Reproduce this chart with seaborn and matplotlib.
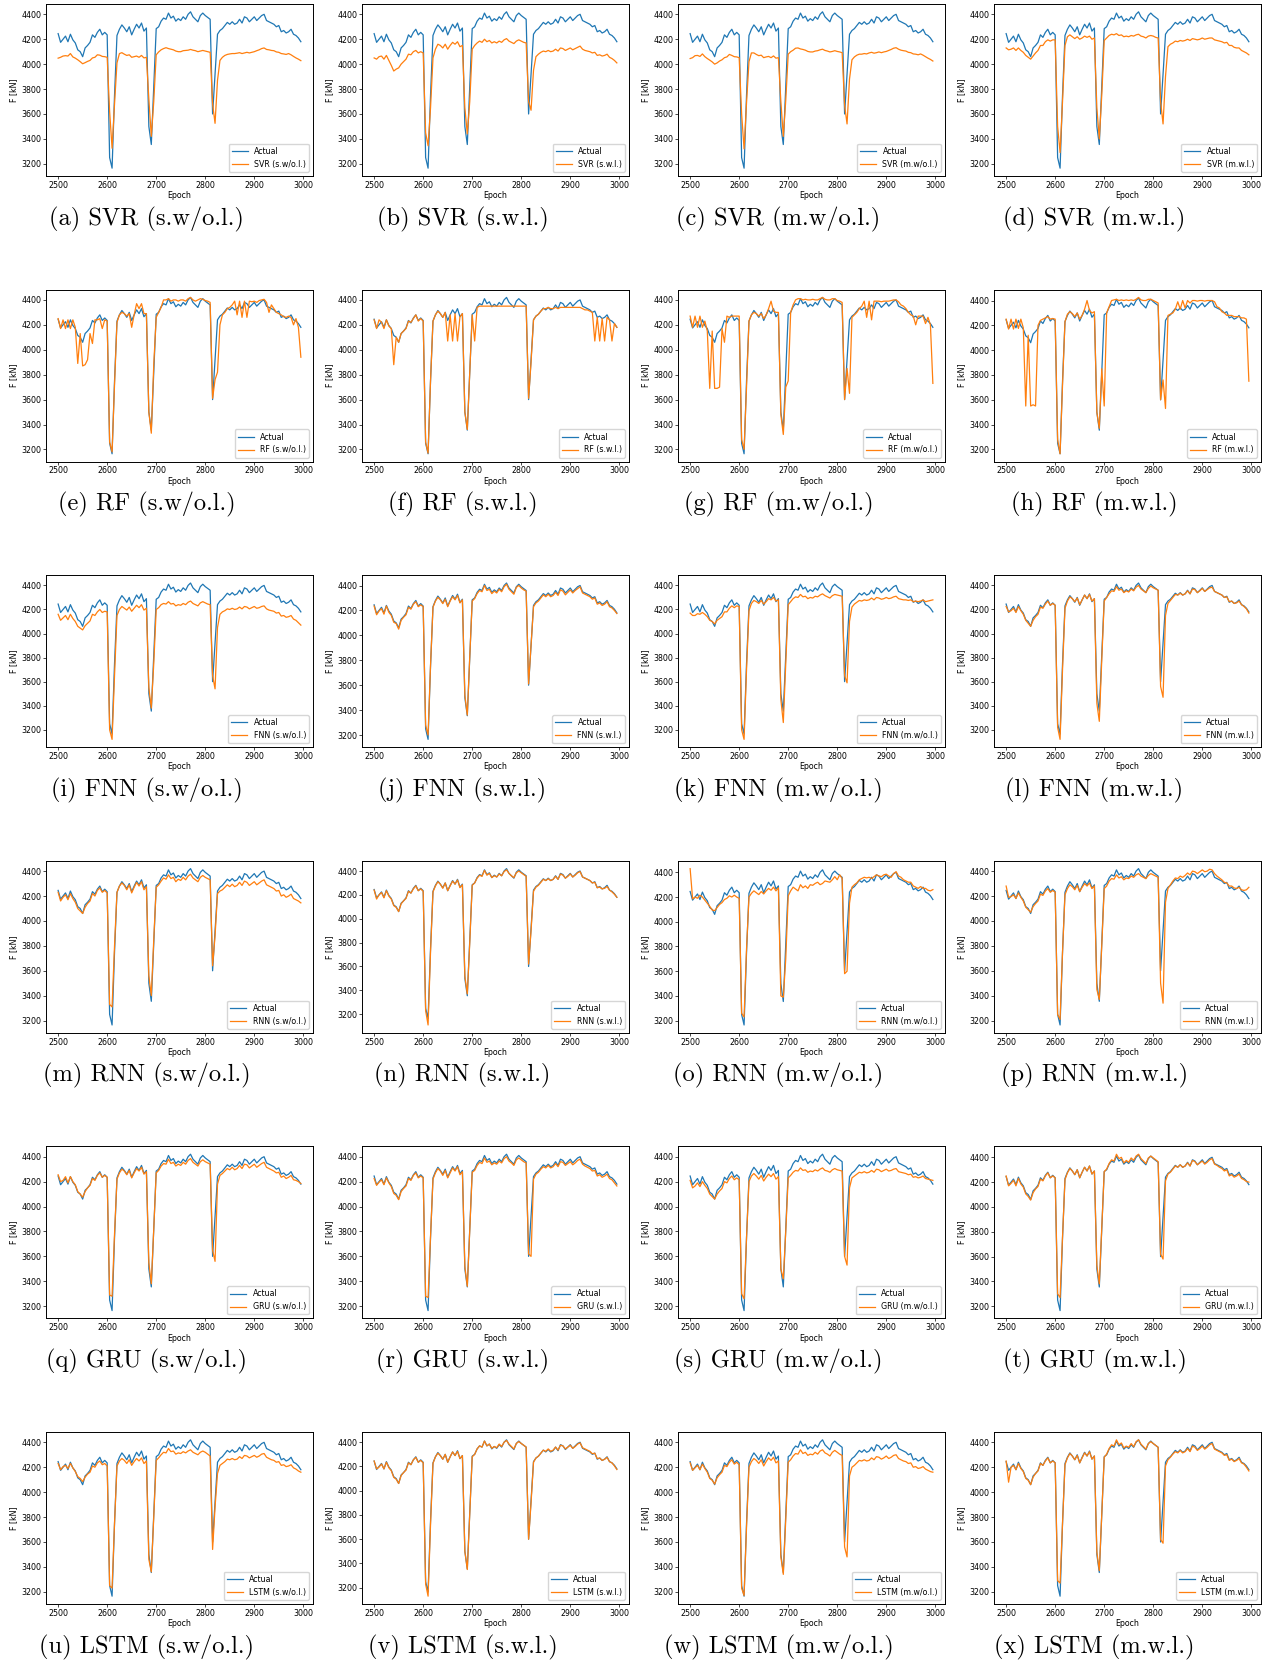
import matplotlib
matplotlib.use('Agg')
import matplotlib.pyplot as plt
from matplotlib.ticker import MultipleLocator
import seaborn as sns

# epochs sampled every 5 steps
epochs = list(range(2500, 3000, 5))

actual = [4245, 4175, 4200, 4225, 4180, 4240, 4195, 4170, 4115, 4100,
          4060, 4130, 4150, 4175, 4235, 4215, 4255, 4280, 4235, 4255,
          4235, 3250, 3165, 3750, 4230, 4280, 4315, 4290, 4260, 4300,
          4235, 4280, 4320, 4290, 4330, 4265, 4290, 3500, 3355, 3820,
          4285, 4300, 4345, 4370, 4360, 4410, 4370, 4385, 4345, 4365,
          4350, 4380, 4360, 4400, 4420, 4380, 4360, 4340, 4390, 4410,
          4390, 4375, 4360, 3600, 3920, 4240, 4270, 4285, 4310, 4335,
          4320, 4340, 4320, 4330, 4360, 4330, 4380, 4370, 4340, 4360,
          4380, 4350, 4370, 4390, 4400, 4350, 4340, 4330, 4320, 4300,
          4310, 4260, 4270, 4250, 4260, 4280, 4240, 4230, 4210, 4180]

svr_swol = [4048, 4055, 4065, 4068, 4065, 4085, 4058, 4048, 4035, 4020,
            4003, 4012, 4022, 4030, 4050, 4055, 4075, 4072, 4062, 4060,
            4055, 3620, 3325, 3680, 4010, 4085, 4092, 4080, 4070, 4075,
            4055, 4060, 4065, 4055, 4070, 4050, 4055, 3720, 3420, 3700,
            4075, 4098, 4115, 4125, 4132, 4125, 4120, 4115, 4105, 4100,
            4100, 4108, 4110, 4112, 4118, 4112, 4108, 4100, 4105, 4110,
            4105, 4100, 4095, 3680, 3525, 3870, 4030, 4055, 4070, 4078,
            4082, 4085, 4085, 4088, 4092, 4085, 4090, 4095, 4090, 4095,
            4100, 4108, 4115, 4125, 4130, 4118, 4115, 4110, 4108, 4098,
            4095, 4085, 4082, 4078, 4085, 4075, 4062, 4050, 4040, 4028]

svr_swl = [4050, 4040, 4060, 4065, 4040, 4070, 4030, 3990, 3945, 3960,
           3970, 4000, 4020, 4040, 4080, 4075, 4100, 4110, 4090, 4100,
           4090, 3450, 3345, 3650, 4050, 4120, 4160, 4150, 4130, 4160,
           4120, 4150, 4175, 4160, 4180, 4140, 4150, 3650, 3440, 3700,
           4120, 4150, 4170, 4185, 4175, 4200, 4180, 4190, 4170, 4180,
           4170, 4185, 4175, 4195, 4205, 4185, 4175, 4165, 4185, 4195,
           4185, 4175, 4170, 3700, 3630, 3950, 4060, 4080, 4095, 4105,
           4100, 4110, 4100, 4105, 4120, 4105, 4130, 4125, 4110, 4120,
           4130, 4115, 4125, 4135, 4145, 4120, 4110, 4105, 4100, 4090,
           4095, 4070, 4075, 4065, 4070, 4080, 4055, 4045, 4030, 4010]

svr_mwol = [4045, 4052, 4068, 4070, 4062, 4082, 4060, 4045, 4032, 4018,
            4000, 4010, 4025, 4035, 4052, 4058, 4078, 4070, 4060, 4058,
            4052, 3600, 3320, 3690, 4020, 4090, 4090, 4078, 4068, 4072,
            4052, 4058, 4062, 4052, 4066, 4048, 4052, 3700, 3420, 3710,
            4080, 4100, 4112, 4128, 4130, 4122, 4118, 4112, 4102, 4098,
            4098, 4105, 4108, 4115, 4120, 4110, 4105, 4098, 4102, 4108,
            4102, 4098, 4092, 3670, 3520, 3880, 4035, 4058, 4072, 4080,
            4080, 4085, 4082, 4090, 4095, 4088, 4092, 4098, 4092, 4098,
            4102, 4110, 4118, 4128, 4132, 4120, 4112, 4108, 4105, 4095,
            4092, 4082, 4080, 4075, 4082, 4072, 4060, 4048, 4038, 4025]

svr_mwl = [4130, 4115, 4120, 4130, 4110, 4130, 4110, 4095, 4070, 4055,
           4040, 4065, 4090, 4110, 4150, 4150, 4180, 4195, 4185, 4195,
           4195, 3500, 3290, 3700, 4150, 4220, 4235, 4220, 4205, 4220,
           4200, 4210, 4225, 4215, 4225, 4200, 4210, 3650, 3400, 3750,
           4190, 4210, 4230, 4240, 4235, 4245, 4230, 4235, 4220, 4225,
           4220, 4230, 4225, 4235, 4240, 4225, 4220, 4210, 4225, 4230,
           4225, 4215, 4210, 3700, 3520, 3900, 4140, 4160, 4170, 4185,
           4180, 4190, 4185, 4190, 4200, 4190, 4205, 4200, 4195, 4200,
           4210, 4200, 4205, 4210, 4210, 4195, 4190, 4185, 4180, 4170,
           4175, 4150, 4150, 4135, 4130, 4130, 4110, 4100, 4090, 4075]

rf_swol = [4250, 4170, 4240, 4170, 4240, 4170, 4240, 4180, 3890, 4130,
           3870, 3880, 3920, 4130, 4050, 4240, 4240, 4250, 4170, 4240,
           4230, 3260, 3180, 3720, 4220, 4280, 4300, 4290, 4270, 4290,
           4180, 4280, 4370, 4330, 4370, 4290, 4290, 3500, 3330, 3880,
           4260, 4300, 4340, 4400, 4400, 4410, 4390, 4400, 4400, 4390,
           4400, 4400, 4390, 4410, 4420, 4400, 4390, 4400, 4410, 4405,
           4395, 4390, 4380, 3610, 3760, 3820, 4200, 4280, 4300, 4330,
           4340, 4360, 4390, 4280, 4390, 4260, 4390, 4260, 4390, 4385,
           4390, 4380, 4395, 4400, 4405, 4380, 4300, 4360, 4330, 4300,
           4290, 4280, 4265, 4260, 4270, 4260, 4200, 4250, 4180, 3940]

rf_swl = [4240, 4170, 4240, 4220, 4170, 4240, 4190, 4170, 3880, 4100,
          4060, 4130, 4150, 4170, 4230, 4220, 4250, 4280, 4230, 4250,
          4230, 3260, 3170, 3750, 4230, 4280, 4310, 4290, 4260, 4300,
          4070, 4280, 4070, 4290, 4070, 4265, 4290, 3500, 3360, 3820,
          4280, 4070, 4340, 4350, 4350, 4350, 4350, 4350, 4350, 4350,
          4350, 4350, 4350, 4350, 4350, 4350, 4350, 4350, 4350, 4350,
          4350, 4350, 4350, 3610, 3900, 4240, 4270, 4285, 4310, 4330,
          4330, 4340, 4330, 4330, 4340, 4330, 4340, 4340, 4340, 4340,
          4340, 4340, 4340, 4340, 4340, 4330, 4320, 4320, 4310, 4300,
          4070, 4260, 4070, 4250, 4070, 4260, 4240, 4070, 4210, 4180]

rf_mwol = [4270, 4180, 4270, 4180, 4270, 4180, 4230, 4150, 3690, 4150,
           3690, 3690, 3700, 4170, 4060, 4270, 4260, 4270, 4270, 4270,
           4270, 3280, 3200, 3700, 4230, 4280, 4300, 4290, 4270, 4290,
           4250, 4280, 4330, 4390, 4310, 4300, 4300, 3480, 3320, 3700,
           3750, 4300, 4360, 4400, 4410, 4410, 4400, 4405, 4400, 4400,
           4405, 4400, 4400, 4410, 4420, 4405, 4400, 4400, 4410, 4410,
           4395, 4390, 4380, 3600, 3850, 3650, 4260, 4280, 4300, 4330,
           4350, 4390, 4260, 4390, 4240, 4390, 4390, 4390, 4385, 4390,
           4390, 4390, 4395, 4400, 4400, 4385, 4360, 4350, 4330, 4300,
           4280, 4270, 4200, 4270, 4270, 4270, 4210, 4260, 4200, 3730]

rf_mwl = [4250, 4170, 4250, 4170, 4250, 4175, 4250, 4180, 3550, 4120,
          3550, 3560, 3550, 4200, 4240, 4250, 4260, 4270, 4250, 4255,
          4250, 3280, 3165, 3720, 4230, 4290, 4310, 4295, 4270, 4300,
          4250, 4280, 4330, 4400, 4320, 4300, 4310, 3500, 3370, 3850,
          3550, 4300, 4350, 4400, 4405, 4410, 4400, 4405, 4400, 4405,
          4400, 4405, 4400, 4410, 4425, 4405, 4400, 4400, 4410, 4410,
          4400, 4390, 4380, 3600, 3760, 3530, 4280, 4290, 4300, 4330,
          4390, 4330, 4400, 4340, 4400, 4380, 4400, 4400, 4395, 4400,
          4400, 4395, 4400, 4400, 4400, 4390, 4350, 4340, 4310, 4300,
          4280, 4280, 4280, 4270, 4270, 4270, 4260, 4260, 4250, 3750]

fnn_swol = [4160, 4110, 4130, 4150, 4115, 4160, 4125, 4100, 4060, 4045,
            4030, 4065, 4085, 4105, 4160, 4150, 4180, 4200, 4175, 4185,
            4180, 3200, 3120, 3650, 4150, 4200, 4225, 4210, 4195, 4220,
            4185, 4210, 4235, 4215, 4240, 4195, 4210, 3550, 3380, 3750,
            4200, 4215, 4240, 4250, 4245, 4265, 4245, 4250, 4230, 4240,
            4235, 4250, 4240, 4260, 4270, 4250, 4240, 4230, 4255, 4265,
            4255, 4245, 4240, 3650, 3540, 4050, 4160, 4180, 4190, 4205,
            4200, 4210, 4200, 4205, 4220, 4205, 4225, 4220, 4205, 4215,
            4225, 4210, 4215, 4225, 4230, 4205, 4195, 4190, 4185, 4170,
            4175, 4145, 4150, 4135, 4140, 4150, 4120, 4110, 4090, 4070]

fnn_swl = [4235, 4165, 4195, 4215, 4170, 4235, 4185, 4160, 4105, 4095,
           4050, 4120, 4145, 4165, 4225, 4210, 4250, 4270, 4230, 4245,
           4230, 3280, 3200, 3760, 4225, 4275, 4305, 4285, 4255, 4290,
           4230, 4275, 4310, 4285, 4320, 4260, 4285, 3520, 3360, 3830,
           4275, 4295, 4335, 4360, 4350, 4400, 4360, 4370, 4335, 4355,
           4340, 4370, 4350, 4390, 4410, 4370, 4350, 4330, 4385, 4400,
           4380, 4365, 4355, 3610, 3920, 4230, 4260, 4275, 4300, 4325,
           4310, 4330, 4310, 4320, 4345, 4320, 4365, 4355, 4325, 4345,
           4365, 4340, 4360, 4375, 4390, 4340, 4330, 4320, 4310, 4290,
           4300, 4250, 4260, 4240, 4250, 4270, 4230, 4220, 4200, 4175]

fnn_mwol = [4170, 4150, 4150, 4165, 4160, 4175, 4160, 4140, 4110, 4100,
            4080, 4110, 4125, 4140, 4180, 4180, 4210, 4230, 4215, 4230,
            4225, 3200, 3120, 3700, 4190, 4250, 4275, 4265, 4250, 4275,
            4245, 4265, 4290, 4280, 4300, 4270, 4280, 3450, 3260, 3750,
            4240, 4265, 4290, 4305, 4300, 4325, 4305, 4310, 4290, 4300,
            4295, 4310, 4305, 4320, 4330, 4315, 4305, 4295, 4315, 4325,
            4320, 4315, 4310, 3650, 3590, 4100, 4220, 4245, 4260, 4275,
            4270, 4280, 4275, 4280, 4295, 4280, 4300, 4295, 4285, 4290,
            4300, 4290, 4295, 4305, 4310, 4290, 4285, 4280, 4280, 4275,
            4280, 4265, 4270, 4265, 4270, 4280, 4265, 4270, 4275, 4280]

fnn_mwl = [4225, 4180, 4190, 4210, 4175, 4225, 4190, 4160, 4110, 4085,
           4060, 4110, 4140, 4160, 4220, 4210, 4245, 4270, 4235, 4250,
           4235, 3220, 3120, 3700, 4210, 4270, 4305, 4290, 4265, 4295,
           4240, 4280, 4320, 4290, 4325, 4270, 4290, 3420, 3270, 3780,
           4270, 4300, 4330, 4355, 4350, 4390, 4360, 4370, 4340, 4355,
           4345, 4370, 4355, 4385, 4400, 4370, 4355, 4340, 4375, 4395,
           4380, 4370, 4360, 3560, 3470, 4150, 4250, 4275, 4300, 4325,
           4320, 4335, 4320, 4330, 4355, 4330, 4370, 4365, 4340, 4355,
           4375, 4350, 4365, 4380, 4385, 4350, 4340, 4330, 4320, 4300,
           4305, 4265, 4270, 4250, 4255, 4270, 4240, 4225, 4205, 4170]

rnn_swol = [4230, 4160, 4190, 4210, 4170, 4220, 4180, 4150, 4100, 4080,
            4060, 4110, 4140, 4160, 4220, 4200, 4245, 4265, 4230, 4245,
            4225, 3330, 3310, 3800, 4230, 4280, 4305, 4285, 4250, 4290,
            4225, 4270, 4310, 4280, 4315, 4250, 4275, 3560, 3400, 3850,
            4270, 4290, 4320, 4345, 4335, 4370, 4340, 4350, 4315, 4335,
            4325, 4350, 4330, 4360, 4375, 4345, 4330, 4315, 4350, 4365,
            4350, 4340, 4330, 3640, 3880, 4220, 4240, 4250, 4270, 4290,
            4275, 4295, 4275, 4285, 4310, 4285, 4320, 4310, 4285, 4300,
            4315, 4290, 4305, 4320, 4330, 4290, 4280, 4270, 4260, 4240,
            4245, 4200, 4210, 4190, 4200, 4215, 4180, 4170, 4160, 4145]

rnn_swl = [4240, 4165, 4200, 4220, 4175, 4235, 4190, 4165, 4110, 4095,
           4060, 4125, 4150, 4170, 4230, 4215, 4250, 4275, 4235, 4250,
           4230, 3230, 3110, 3720, 4225, 4275, 4310, 4290, 4255, 4300,
           4235, 4275, 4315, 4290, 4325, 4260, 4285, 3520, 3370, 3800,
           4280, 4300, 4340, 4365, 4355, 4405, 4365, 4380, 4345, 4360,
           4350, 4375, 4360, 4395, 4410, 4380, 4360, 4345, 4385, 4400,
           4385, 4370, 4355, 3620, 3900, 4230, 4265, 4280, 4305, 4330,
           4320, 4335, 4320, 4330, 4355, 4330, 4375, 4365, 4340, 4355,
           4375, 4350, 4365, 4385, 4395, 4350, 4340, 4330, 4320, 4300,
           4305, 4260, 4265, 4250, 4255, 4270, 4240, 4225, 4205, 4180]

rnn_mwol = [4430, 4185, 4200, 4190, 4215, 4200, 4175, 4150, 4125, 4095,
            4090, 4115, 4140, 4155, 4180, 4190, 4210, 4200, 4215, 4200,
            4190, 3260, 3230, 3780, 4200, 4230, 4250, 4235, 4220, 4245,
            4225, 4250, 4270, 4255, 4280, 4250, 4275, 3400, 3390, 3700,
            4210, 4250, 4280, 4265, 4250, 4300, 4275, 4290, 4270, 4300,
            4295, 4310, 4320, 4300, 4310, 4330, 4325, 4320, 4340, 4365,
            4340, 4380, 4350, 3580, 3600, 4150, 4280, 4300, 4315, 4340,
            4350, 4360, 4355, 4360, 4350, 4365, 4380, 4370, 4365, 4380,
            4385, 4370, 4360, 4390, 4405, 4370, 4360, 4340, 4330, 4320,
            4320, 4290, 4280, 4270, 4285, 4270, 4270, 4255, 4250, 4260]

rnn_mwl = [4280, 4190, 4195, 4210, 4180, 4225, 4190, 4160, 4110, 4090,
           4070, 4115, 4140, 4160, 4215, 4205, 4240, 4260, 4230, 4245,
           4230, 3250, 3210, 3750, 4210, 4260, 4290, 4275, 4250, 4285,
           4235, 4270, 4300, 4280, 4305, 4260, 4280, 3450, 3370, 3800,
           4260, 4280, 4320, 4340, 4335, 4370, 4345, 4355, 4330, 4345,
           4340, 4360, 4350, 4370, 4380, 4360, 4350, 4340, 4365, 4380,
           4370, 4360, 4350, 3500, 3340, 4150, 4260, 4290, 4320, 4345,
           4340, 4360, 4350, 4365, 4385, 4370, 4400, 4395, 4380, 4395,
           4410, 4395, 4400, 4415, 4410, 4380, 4360, 4345, 4330, 4310,
           4305, 4280, 4280, 4265, 4260, 4270, 4250, 4245, 4250, 4270]

gru_swol = [4255, 4200, 4210, 4240, 4190, 4240, 4200, 4175, 4120, 4100,
            4075, 4120, 4150, 4170, 4225, 4210, 4250, 4270, 4235, 4250,
            4235, 3290, 3280, 3780, 4220, 4270, 4300, 4285, 4255, 4290,
            4230, 4270, 4305, 4285, 4315, 4260, 4280, 3550, 3380, 3820,
            4270, 4290, 4325, 4345, 4340, 4380, 4345, 4355, 4325, 4340,
            4330, 4355, 4340, 4370, 4385, 4355, 4340, 4325, 4360, 4375,
            4360, 4350, 4340, 3650, 3560, 4180, 4250, 4265, 4285, 4305,
            4295, 4315, 4295, 4305, 4330, 4305, 4340, 4335, 4310, 4325,
            4340, 4315, 4330, 4345, 4355, 4315, 4305, 4295, 4285, 4270,
            4275, 4235, 4245, 4225, 4235, 4250, 4215, 4210, 4200, 4185]

gru_swl = [4225, 4170, 4195, 4215, 4175, 4230, 4190, 4160, 4105, 4090,
           4055, 4120, 4145, 4165, 4225, 4210, 4250, 4270, 4230, 4245,
           4230, 3280, 3270, 3760, 4220, 4270, 4305, 4285, 4250, 4290,
           4230, 4270, 4310, 4285, 4320, 4255, 4280, 3520, 3360, 3810,
           4275, 4290, 4330, 4355, 4345, 4390, 4355, 4365, 4335, 4350,
           4340, 4365, 4350, 4385, 4400, 4365, 4350, 4330, 4375, 4390,
           4375, 4360, 4350, 3620, 3600, 4220, 4260, 4275, 4300, 4320,
           4310, 4330, 4310, 4320, 4345, 4320, 4360, 4355, 4330, 4345,
           4360, 4335, 4350, 4370, 4380, 4340, 4325, 4315, 4305, 4285,
           4290, 4245, 4255, 4235, 4245, 4260, 4225, 4215, 4190, 4165]

gru_mwol = [4210, 4150, 4165, 4190, 4160, 4200, 4170, 4145, 4100, 4080,
            4060, 4100, 4125, 4145, 4200, 4190, 4225, 4245, 4215, 4230,
            4215, 3300, 3260, 3750, 4200, 4245, 4265, 4245, 4220, 4250,
            4205, 4235, 4260, 4240, 4265, 4220, 4240, 3500, 3420, 3800,
            4230, 4250, 4275, 4290, 4285, 4310, 4290, 4295, 4275, 4285,
            4280, 4295, 4285, 4300, 4310, 4290, 4285, 4275, 4295, 4305,
            4295, 4290, 4285, 3600, 3530, 4150, 4230, 4245, 4260, 4275,
            4270, 4280, 4270, 4275, 4290, 4275, 4300, 4295, 4280, 4290,
            4300, 4285, 4290, 4300, 4305, 4280, 4275, 4270, 4265, 4255,
            4260, 4235, 4240, 4230, 4235, 4245, 4225, 4220, 4215, 4210]

gru_mwl = [4250, 4170, 4190, 4215, 4170, 4230, 4185, 4160, 4105, 4085,
           4055, 4115, 4145, 4165, 4225, 4210, 4250, 4275, 4235, 4250,
           4235, 3300, 3270, 3760, 4220, 4275, 4310, 4290, 4260, 4300,
           4235, 4280, 4320, 4290, 4330, 4265, 4290, 3530, 3380, 3830,
           4285, 4305, 4350, 4380, 4370, 4425, 4390, 4400, 4355, 4375,
           4360, 4395, 4375, 4410, 4425, 4390, 4370, 4350, 4395, 4410,
           4395, 4380, 4365, 3620, 3580, 4210, 4265, 4280, 4305, 4330,
           4320, 4340, 4320, 4330, 4355, 4330, 4375, 4365, 4340, 4355,
           4370, 4345, 4360, 4380, 4390, 4345, 4335, 4320, 4310, 4290,
           4300, 4250, 4260, 4240, 4250, 4265, 4230, 4220, 4205, 4200]

lstm_swol = [4230, 4180, 4205, 4215, 4190, 4230, 4195, 4165, 4125, 4110,
             4085, 4120, 4145, 4160, 4210, 4200, 4235, 4250, 4220, 4230,
             4210, 3250, 3230, 3750, 4210, 4250, 4270, 4255, 4230, 4260,
             4215, 4245, 4270, 4250, 4275, 4230, 4250, 3460, 3360, 3800,
             4255, 4275, 4300, 4320, 4315, 4350, 4325, 4330, 4305, 4315,
             4310, 4325, 4315, 4330, 4340, 4320, 4310, 4300, 4320, 4330,
             4320, 4305, 4290, 3540, 3880, 4150, 4215, 4230, 4245, 4265,
             4260, 4270, 4260, 4265, 4285, 4270, 4295, 4290, 4275, 4285,
             4295, 4280, 4290, 4305, 4310, 4280, 4270, 4260, 4255, 4240,
             4245, 4215, 4220, 4205, 4210, 4220, 4195, 4185, 4170, 4160]

lstm_swl = [4245, 4180, 4195, 4220, 4180, 4235, 4190, 4165, 4110, 4095,
            4060, 4125, 4150, 4170, 4230, 4215, 4255, 4275, 4235, 4250,
            4230, 3230, 3130, 3720, 4225, 4280, 4310, 4290, 4260, 4300,
            4235, 4280, 4320, 4290, 4325, 4265, 4290, 3500, 3350, 3810,
            4280, 4300, 4345, 4370, 4360, 4410, 4370, 4385, 4350, 4365,
            4355, 4385, 4365, 4400, 4415, 4385, 4365, 4345, 4390, 4405,
            4390, 4375, 4360, 3600, 3900, 4235, 4270, 4285, 4310, 4335,
            4325, 4345, 4325, 4335, 4360, 4335, 4375, 4370, 4345, 4360,
            4375, 4350, 4365, 4385, 4395, 4355, 4345, 4335, 4325, 4305,
            4310, 4265, 4270, 4250, 4260, 4275, 4240, 4230, 4205, 4175]

lstm_mwol = [4235, 4175, 4195, 4215, 4180, 4225, 4190, 4160, 4110, 4095,
             4065, 4115, 4140, 4160, 4215, 4205, 4240, 4260, 4225, 4240,
             4220, 3230, 3170, 3720, 4200, 4245, 4270, 4255, 4230, 4260,
             4210, 4245, 4275, 4255, 4280, 4235, 4250, 3480, 3340, 3780,
             4240, 4260, 4290, 4310, 4305, 4340, 4310, 4320, 4295, 4305,
             4300, 4320, 4305, 4330, 4340, 4315, 4305, 4290, 4320, 4335,
             4320, 4305, 4295, 3560, 3480, 4130, 4200, 4215, 4235, 4255,
             4250, 4260, 4250, 4255, 4275, 4260, 4285, 4280, 4265, 4275,
             4290, 4270, 4280, 4295, 4300, 4270, 4260, 4250, 4245, 4230,
             4235, 4200, 4205, 4190, 4195, 4205, 4185, 4175, 4165, 4160]

lstm_mwl = [4250, 4080, 4200, 4215, 4180, 4230, 4190, 4165, 4110, 4095,
            4060, 4120, 4150, 4170, 4230, 4215, 4250, 4275, 4235, 4250,
            4235, 3290, 3270, 3750, 4220, 4275, 4310, 4290, 4260, 4295,
            4235, 4275, 4315, 4290, 4325, 4265, 4290, 3520, 3370, 3820,
            4280, 4305, 4350, 4380, 4370, 4420, 4380, 4395, 4355, 4370,
            4360, 4390, 4365, 4405, 4420, 4385, 4365, 4345, 4390, 4405,
            4390, 4375, 4360, 3620, 3590, 4210, 4260, 4280, 4305, 4325,
            4315, 4335, 4315, 4325, 4350, 4325, 4370, 4360, 4335, 4350,
            4370, 4345, 4360, 4380, 4390, 4345, 4335, 4325, 4315, 4295,
            4300, 4255, 4265, 4245, 4255, 4270, 4235, 4225, 4200, 4170]

models = ['SVR', 'RF', 'FNN', 'RNN', 'GRU', 'LSTM']
settings = ['s.w/o.l.', 's.w.l.', 'm.w/o.l.', 'm.w.l.']
predictions = [
    [svr_swol, svr_swl, svr_mwol, svr_mwl],
    [rf_swol, rf_swl, rf_mwol, rf_mwl],
    [fnn_swol, fnn_swl, fnn_mwol, fnn_mwl],
    [rnn_swol, rnn_swl, rnn_mwol, rnn_mwl],
    [gru_swol, gru_swl, gru_mwol, gru_mwl],
    [lstm_swol, lstm_swl, lstm_mwol, lstm_mwl],
]
letters = 'abcdefghijklmnopqrstuvwx'

# layout in pixels
W, H = 1276, 1663
ax_w, ax_h = 267, 172
col_left = [46, 362, 678, 994]
row_step = 285.6
small = 5.7

fig = plt.figure(figsize=(W / 100, H / 100), dpi=100)

for r, model in enumerate(models):
    top = 4 + r * row_step
    for c, setting in enumerate(settings):
        left = col_left[c]
        ax = fig.add_axes([left / W, 1 - (top + ax_h) / H, ax_w / W, ax_h / H])
        sns.lineplot(x=epochs, y=actual, ax=ax, color='#1f77b4', lw=0.9, label='Actual')
        sns.lineplot(x=epochs, y=predictions[r][c], ax=ax, color='#ff7f0e', lw=0.9,
                     label=f'{model} ({setting})')
        ax.xaxis.set_major_locator(MultipleLocator(100))
        ax.yaxis.set_major_locator(MultipleLocator(200))
        ax.tick_params(labelsize=small, length=2, width=0.5, pad=1.5)
        ax.set_xlabel('Epoch', fontsize=small, labelpad=1)
        ax.set_ylabel('F [kN]', fontsize=small, labelpad=2)
        for sp in ax.spines.values():
            sp.set_linewidth(0.7)
        ax.legend(loc='lower right', fontsize=small, handlelength=2.0,
                  borderpad=0.4, framealpha=0.8)

        # subfigure caption below each panel
        idx = r * 4 + c
        fig.text((left + ax_w / 2 - 33) / W, 1 - (top + ax_h + 43) / H,
                 f'({letters[idx]}) {model} ({setting})',
                 ha='center', va='center', family='cmr10', fontsize=17.6)

fig.savefig('out.png', dpi=100)
